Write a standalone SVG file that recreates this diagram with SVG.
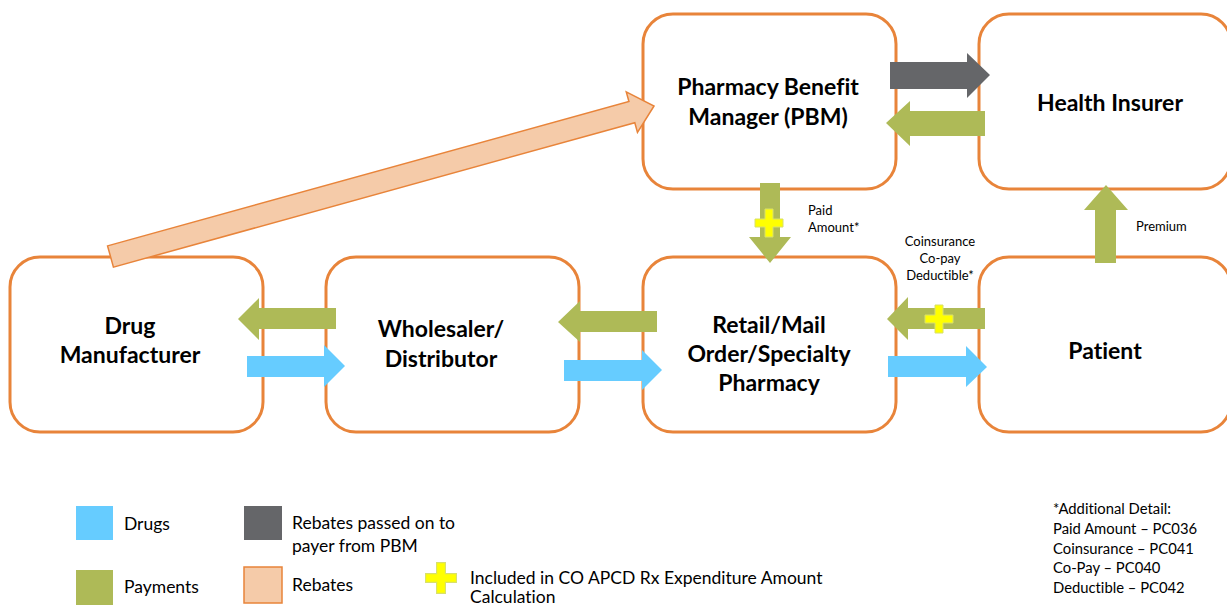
<svg xmlns="http://www.w3.org/2000/svg" width="1227" height="606" viewBox="0 0 1227 606">
<style>
text{font-variant-ligatures:none}
.box{fill:#fff;stroke:#E8843A;stroke-width:3}
.lbl{font-family:Lato,"Liberation Sans",sans-serif;font-weight:bold;font-size:23px;fill:#000;text-anchor:middle}
.sm{font-family:Lato,"Liberation Sans",sans-serif;font-size:13px;fill:#000}
.lg{font-family:Lato,"Liberation Sans",sans-serif;font-size:17.5px;fill:#000}
.dt{font-family:Lato,"Liberation Sans",sans-serif;font-size:14.8px;fill:#000}
.blue{fill:#66CCFF}
.green{fill:#AEBA57}
.gray{fill:#656669}
.peach{fill:#F5CBA9;stroke:#E8843A;stroke-width:1.5}
.plus{fill:#FFFF00;stroke:#D8E06A;stroke-width:1}
</style>
<defs>
<polygon id="plus" points="-4,-14 4,-14 4,-4 14,-4 14,4 4,4 4,14 -4,14 -4,4 -14,4 -14,-4 -4,-4"/>
</defs>
<rect width="1227" height="606" fill="#fff"/>

<g id="pbm"><rect class="box" x="643" y="14" width="253" height="175" rx="30"/>
<text class="lbl" x="768" y="95">Pharmacy Benefit</text><text class="lbl" x="768" y="125">Manager (PBM)</text></g>
<g id="insurer"><rect class="box" x="979" y="14" width="252" height="175" rx="30"/>
<text class="lbl" x="1110" y="111">Health Insurer</text></g>
<g id="manufacturer"><rect class="box" x="10" y="257" width="253" height="175" rx="30"/>
<text class="lbl" x="130" y="334">Drug</text><text class="lbl" x="130" y="363">Manufacturer</text></g>
<g id="wholesaler"><rect class="box" x="326" y="257" width="253" height="175" rx="30"/>
<text class="lbl" x="441" y="337">Wholesaler/</text><text class="lbl" x="441" y="367">Distributor</text></g>
<g id="pharmacy"><rect class="box" x="643" y="257" width="253" height="175" rx="30"/>
<text class="lbl" x="769" y="333">Retail/Mail</text><text class="lbl" x="769" y="362">Order/Specialty</text><text class="lbl" x="769" y="391">Pharmacy</text></g>
<g id="patient"><rect class="box" x="979" y="257" width="252" height="175" rx="30"/>
<text class="lbl" x="1105" y="359">Patient</text></g>

<g id="connectors">
<polygon class="peach" transform="translate(110.5,256.5) rotate(-15.48)" points="0,-11 541,-11 541,-21 564,0 541,21 541,11 0,11"/>
<polygon class="gray" points="890,62 967,62 967,53 990,75 967,98 967,89 890,89"/>
<polygon class="green" points="985,111 910,111 910,101 886,123 910,146 910,136 985,136"/>
<polygon class="green" points="760,183 780,183 780,237 791,237 770,263 749,237 760,237"/>
<use href="#plus" class="plus" x="769" y="223"/>
<polygon class="green" points="1095,263 1116,263 1116,210 1128,210 1106,185 1084,210 1095,210"/>
<polygon class="green" points="336,308 259,308 259,298 238,319 259,340 259,329 336,329"/>
<polygon class="blue" points="247,356 324,356 324,345 345,366 324,387 324,377 247,377"/>
<polygon class="green" points="657,311 580,311 580,301 558,322 580,342 580,332 657,332"/>
<polygon class="blue" points="564,360 642,360 642,350 662,370 642,390 642,381 564,381"/>
<polygon class="green" points="985,308 908,308 908,297 887,319 908,340 908,329 985,329"/>
<use href="#plus" class="plus" x="939" y="319"/>
<polygon class="blue" points="888,356 966,356 966,346 987,367 966,387 966,377 888,377"/>
<text class="sm" x="808" y="215">Paid</text><text class="sm" x="808" y="232">Amount*</text>
<text class="sm" x="940" y="246" text-anchor="middle">Coinsurance</text>
<text class="sm" x="940" y="263" text-anchor="middle">Co-pay</text>
<text class="sm" x="940" y="280" text-anchor="middle">Deductible*</text>
<text class="sm" x="1136" y="231">Premium</text>
</g>

<g id="legend">
<rect class="blue" x="76" y="506" width="37" height="34"/>
<text class="lg" x="124" y="530">Drugs</text>
<rect class="green" x="76" y="570" width="37" height="35"/>
<text class="lg" x="124" y="593">Payments</text>
<rect class="gray" x="244" y="506" width="38" height="34"/>
<text class="lg" x="292" y="529">Rebates passed on to</text>
<text class="lg" x="292" y="552">payer from PBM</text>
<rect class="peach" x="244" y="567" width="38" height="36"/>
<text class="lg" x="292" y="591">Rebates</text>
<use href="#plus" class="plus" transform="translate(441,578) scale(1.1)"/>
<text class="lg" x="470" y="584">Included in CO APCD Rx Expenditure Amount</text>
<text class="lg" x="470" y="603">Calculation</text>
<text class="dt" x="1053" y="514">*Additional Detail:</text>
<text class="dt" x="1053" y="534">Paid Amount – PC036</text>
<text class="dt" x="1053" y="554">Coinsurance – PC041</text>
<text class="dt" x="1053" y="573">Co-Pay – PC040</text>
<text class="dt" x="1053" y="593">Deductible – PC042</text>
</g>
</svg>
